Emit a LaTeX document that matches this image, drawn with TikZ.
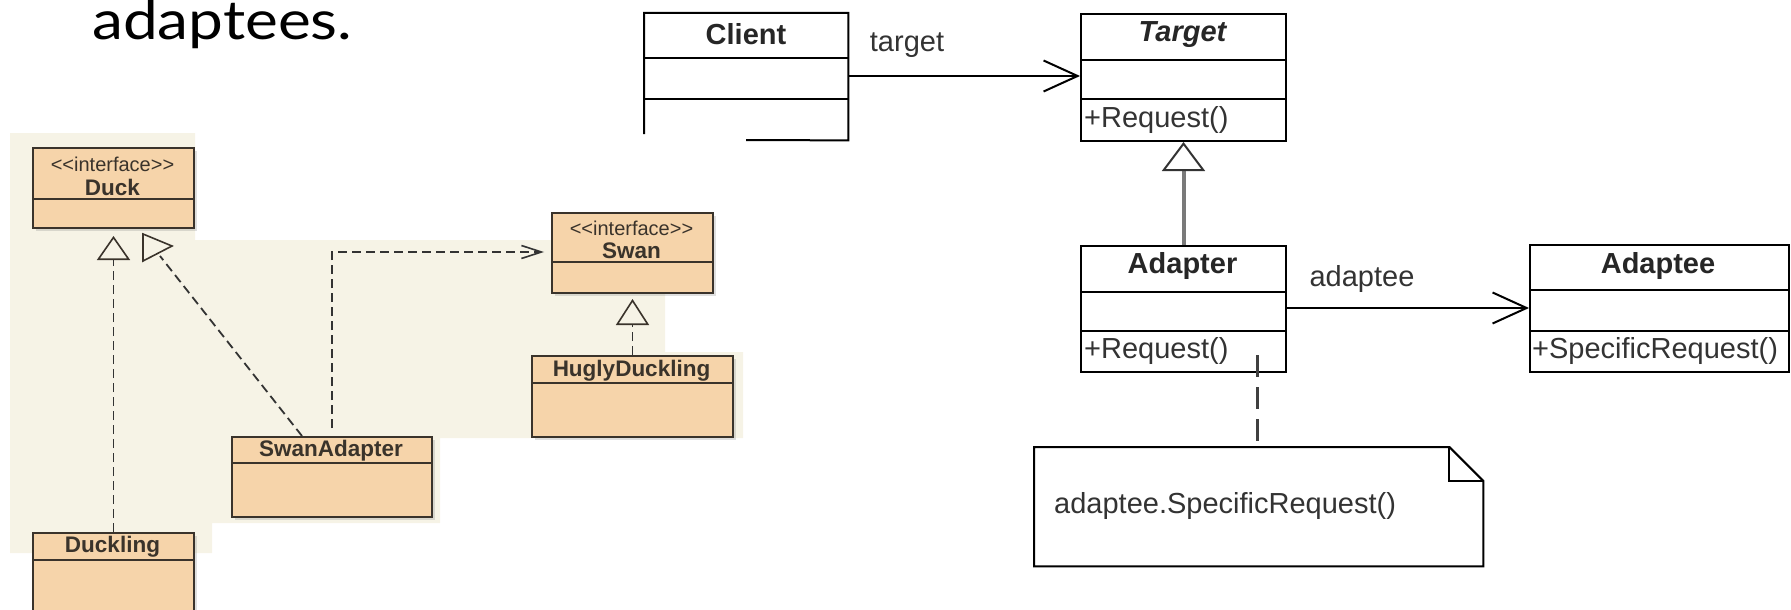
\documentclass[tikz,border=0pt]{standalone}
\usepackage{fontspec}
\setmainfont{Liberation Sans}
\newfontfamily\titlefont{Lato}
\usetikzlibrary{arrows.meta,calc,shadows}
\definecolor{peach}{HTML}{F6D4AA}
\definecolor{bgbeige}{HTML}{F6F3E6}
\definecolor{edge}{HTML}{3A332B}
\definecolor{dashc}{HTML}{333333}
\definecolor{genline}{HTML}{7A7A7A}
\begin{document}
\begin{tikzpicture}[x=1pt,y=-1pt,
  ubox/.style={draw=edge, line width=2pt, fill=peach, inner sep=0pt, anchor=north west,
    drop shadow={shadow xshift=3pt, shadow yshift=-3pt, opacity=.25, fill=gray}},
  cbox/.style={inner sep=0pt, anchor=north west},
  cline/.style={draw=black, line width=2pt},
  udash/.style={draw=dashc, line width=1.8pt, dash pattern=on 9pt off 5pt},
  ustereo/.style={font=\fontsize{20}{22}\selectfont, text=edge},
  uname/.style={font=\fontsize{22.5}{24}\selectfont\bfseries, text=edge},
  cname/.style={font=\fontsize{29}{32}\selectfont\bfseries, text=black!85},
  ctext/.style={font=\fontsize{29}{32}\selectfont, text=black!80},
  opentri/.style={-{Triangle[open,length=24pt,width=33pt,line width=1.6pt,color=edge]}},
  barb/.style={-{Straight Barb[length=34pt,width=31pt,line width=2pt]}},
]
\useasboundingbox (0,0) rectangle (1791,610);
\clip (0,0) rectangle (1791,610);

% title text
\node[anchor=base west, inner sep=0pt, font=\titlefont\fontsize{54}{60}\selectfont] (title) at (92,40) {\scalebox{1.15}[1]{adaptees.}};

% ---------------- left panel ----------------
\fill[bgbeige] (10,133) -- (195,133) -- (195,240) -- (665,240) -- (665,352) -- (743,352)
  -- (743,438) -- (440,438) -- (440,523) -- (212,523) -- (212,553) -- (10,553) -- cycle;

\node[ubox, minimum width=161pt, minimum height=80pt] (duck) at (32,147) {};
\draw[edge, line width=2pt] (duck.west |- 0,199) -- (duck.east |- 0,199);
\node[ustereo] (duckst) at (112.5,164) {<{}<interface>{}>};
\node[uname] (duckname) at (112.5,187) {Duck};

\node[ubox, minimum width=161pt, minimum height=80pt] (swan) at (551,212) {};
\draw[edge, line width=2pt] (swan.west |- 0,262) -- (swan.east |- 0,262);
\node[ustereo] (swanst) at (631.5,228) {<{}<interface>{}>};
\node[uname] (swanname) at (631.5,251) {Swan};

\node[ubox, minimum width=201pt, minimum height=81pt] (hugly) at (531,355) {};
\draw[edge, line width=2pt] (hugly.west |- 0,383) -- (hugly.east |- 0,383);
\node[uname] (huglyname) at (631.5,371) {HuglyDuckling};

\node[ubox, minimum width=200pt, minimum height=80pt] (swanad) at (231,436) {};
\draw[edge, line width=2pt] (swanad.west |- 0,463) -- (swanad.east |- 0,463);
\node[uname] (swanadname) at (331,451) {SwanAdapter};

\node[ubox, minimum width=161pt, minimum height=100pt] (duckling) at (32,532) {};
\draw[edge, line width=2pt] (duckling.west |- 0,560) -- (duckling.east |- 0,560);
\node[uname] (ducklingname) at (112.5,547) {Duckling};

% realizations
\draw[udash, opentri, shorten >=7pt] (duckling.north) -- (duck.south);
\coordinate (sa1) at (302,436);
\coordinate (sa1end) at (160,256);
\draw[udash] (sa1) -- (sa1end);
\draw[edge, line width=1.6pt] (143,234) -- (143,261) -- (172,246) -- cycle;
\coordinate (sa2) at (332,428);
\draw[udash, -{Straight Barb[length=20pt,width=13pt,line width=1.6pt]}, shorten >=7pt]
  (sa2) |- (swan.west |- 0,252);
\draw[udash, -{Triangle[open,length=26pt,width=33pt,line width=1.6pt,color=edge]}, shorten >=5pt]
  (hugly.north) -- (swan.south);

% ---------------- right diagram ----------------
% Client (partly covered)
\node[cbox, minimum width=204pt, minimum height=127pt] (client) at (644,13) {};
\draw[cline] (client.south west |- 0,134) -- (client.north west) -- (client.north east) -- (client.south east) -- (746,140);
\draw[cline] (client.west |- 0,58) -- (client.east |- 0,58);
\draw[cline] (client.west |- 0,99) -- (client.east |- 0,99);
\node[cname] (clientname) at (746,34) {Client};

% Target
\node[cbox, draw=black, line width=2pt, minimum width=205pt, minimum height=127pt] (target) at (1080,13) {};
\draw[cline] (target.west |- 0,60) -- (target.east |- 0,60);
\draw[cline] (target.west |- 0,99) -- (target.east |- 0,99);
\node[cname, font=\fontsize{29}{32}\selectfont\bfseries\itshape] (targetname) at (1182.5,35) {Target};
\node[ctext, anchor=west, inner sep=0pt] (targetop) at (1084,120) {+Request()};

% Adapter
\node[cbox, draw=black, line width=2pt, minimum width=205pt, minimum height=126pt] (adapter) at (1080,245) {};
\draw[cline] (adapter.west |- 0,292) -- (adapter.east |- 0,292);
\draw[cline] (adapter.west |- 0,331) -- (adapter.east |- 0,331);
\node[cname] (adaptername) at (1182.5,266) {Adapter};
\node[ctext, anchor=west, inner sep=0pt] (adapterop) at (1084,351) {+Request()};

% Adaptee
\node[cbox, draw=black, line width=2pt, minimum width=259pt, minimum height=127pt] (adaptee) at (1529,244) {};
\draw[cline] (adaptee.west |- 0,290) -- (adaptee.east |- 0,290);
\draw[cline] (adaptee.west |- 0,331) -- (adaptee.east |- 0,331);
\node[cname] (adapteename) at (1658,266) {Adaptee};
\node[ctext, anchor=west, inner sep=0pt] (adapteeop) at (1532,351) {+SpecificRequest()};

% Note
\node[cbox, minimum width=449pt, minimum height=119pt] (note) at (1034,447) {};
\draw[cline] (note.north west) -- ($(note.north east)+(-34,0)$) -- ($(note.north east)+(0,34)$)
  -- (note.south east) -- (note.south west) -- cycle;
\draw[cline] ($(note.north east)+(-34,0)$) -- ($(note.north east)+(-34,34)$) -- ($(note.north east)+(0,34)$);
\node[ctext, anchor=west, inner sep=0pt] (notetext) at (1054,506) {adaptee.SpecificRequest()};

% connectors
\draw[cline, barb] (client.east |- 0,76) -- (target.west |- 0,76);
\node[ctext] (targetlbl) at (907,45) {target};
\draw[cline, barb] (adapter.east |- 0,308) -- (adaptee.west |- 0,308);
\node[ctext] (adapteelbl) at (1362,279) {adaptee};
\draw[genline, line width=4pt, -{Triangle[open,length=29pt,width=43pt,line width=2pt,color=black!80]}]
  (adapter.north) -- (target.south);
\coordinate (notestart) at (1257,355);
\draw[black!75, line width=3pt, dash pattern=on 22pt off 10pt] (notestart) -- (note.north -| notestart);
\end{tikzpicture}
\end{document}
